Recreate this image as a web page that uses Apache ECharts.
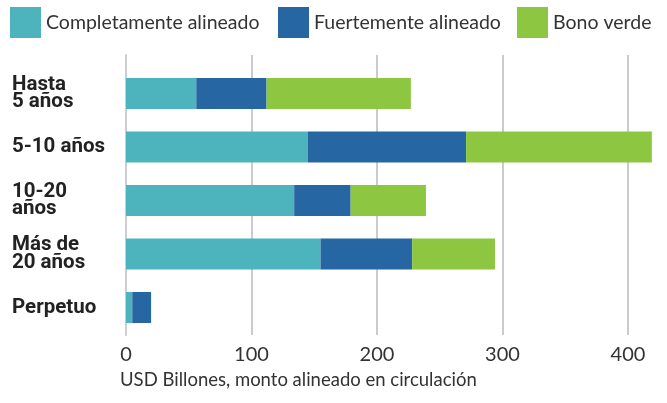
<!DOCTYPE html>
<html>
<head>
<meta charset="utf-8">
<script src="https://cdn.jsdelivr.net/npm/echarts@6/dist/echarts.min.js"></script>
<style>
  html, body { margin: 0; padding: 0; background: #fff; }
  #chart { width: 667px; height: 403px; }
</style>
</head>
<body>
<div id="chart"></div>
<script>
// datos
const categories = ['Hasta\n5 años', '5-10 años', '10-20\naños', 'Más de\n20 años', 'Perpetuo']
const completamente = [56, 145, 134, 155, 5]
const fuertemente = [56, 126, 45, 73, 15]
const bonoVerde = [115, 148, 60, 66, 0]
const xTicks = [0, 100, 200, 300, 400]
const seriesNames = ['Completamente alineado', 'Fuertemente alineado', 'Bono verde']
const colors = ['#4db3bd', '#2666a3', '#8dc640']

const chart = echarts.init(document.getElementById('chart'))

const fontFamily = 'Lato'
const gridLeft = 126
const gridRight = 39

// una leyenda por serie para fijar su posición (padding 5 incluido)
const legendLefts = [5, 273, 512]
const legends = seriesNames.map((name, i) => ({
  data: [name],
  left: legendLefts[i],
  top: 2,
  itemWidth: 31,
  itemHeight: 31,
  icon: 'rect',
  selectedMode: false,
  textStyle: { fontFamily, fontSize: 19.5, color: '#333' }
}))

const barSeries = [completamente, fuertemente, bonoVerde].map((vals, i) => ({
  name: seriesNames[i],
  type: 'bar',
  stack: 'total',
  barWidth: 31,
  clip: false,
  xAxisIndex: 0,
  yAxisIndex: 0,
  itemStyle: { color: colors[i] },
  data: vals
}))

const option = {
  animation: false,
  title: {
    text: 'USD Billones, monto alineado en circulación',
    left: 115,
    top: 366,
    textStyle: { fontFamily, fontSize: 18.5, fontWeight: 'normal', color: '#333' }
  },
  legend: legends,
  grid: [
    // barras
    { left: gridLeft, right: gridRight, top: 66.75, height: 267.5 },
    // marco con líneas de división
    { left: gridLeft, right: gridRight, top: 55, height: 280 }
  ],
  xAxis: [
    {
      gridIndex: 0,
      type: 'value',
      min: xTicks[0],
      max: xTicks[xTicks.length - 1],
      interval: 100,
      show: false
    },
    {
      gridIndex: 1,
      type: 'value',
      min: xTicks[0],
      max: xTicks[xTicks.length - 1],
      interval: 100,
      axisLine: { show: false },
      axisTick: { show: false },
      splitLine: { show: true, lineStyle: { color: '#b9b9c1', width: 1.5 } },
      axisLabel: { fontFamily, fontSize: 20, color: '#333', margin: 10 }
    }
  ],
  yAxis: [
    {
      gridIndex: 0,
      type: 'category',
      inverse: true,
      data: categories,
      axisLine: { show: false },
      axisTick: { show: false },
      axisLabel: {
        align: 'left',
        margin: 114,
        fontFamily: 'Roboto',
        fontWeight: 'bold',
        fontSize: 20.5,
        lineHeight: 17.5,
        color: '#222',
        padding: [0, 0, 10, 0]
      }
    },
    {
      gridIndex: 1,
      type: 'value',
      min: 0,
      max: 1,
      axisLine: { show: true, lineStyle: { color: '#cdcdd2', width: 2 } },
      axisTick: { show: false },
      axisLabel: { show: false },
      splitLine: { show: false }
    }
  ],
  series: barSeries
}

chart.setOption(option)
</script>
</body>
</html>
